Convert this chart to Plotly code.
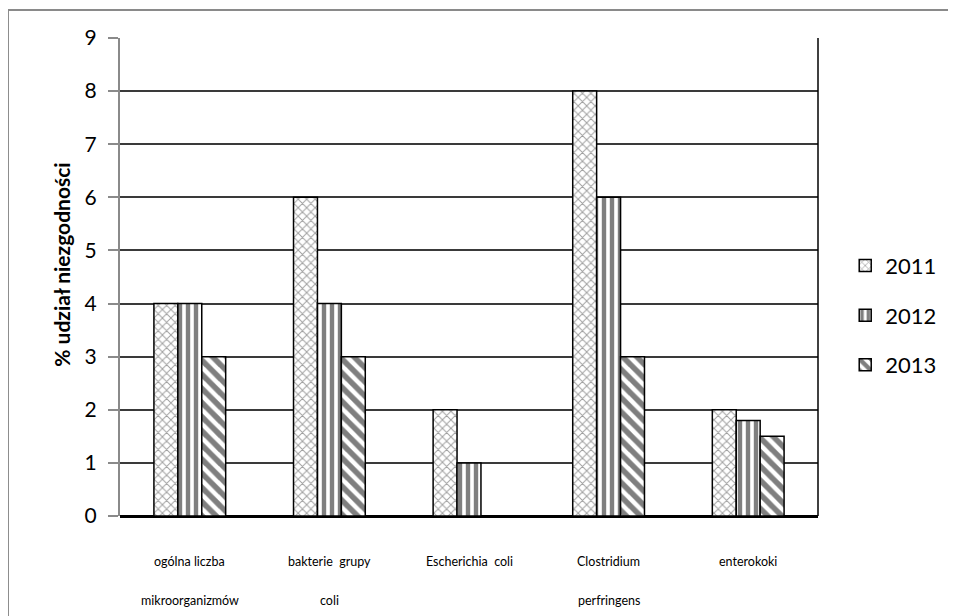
import plotly.graph_objects as go

categories = ["ogólna liczba mikroorganizmów", "bakterie grupy coli", "Escherichia coli",
              "Clostridium perfringens", "enterokoki"]
label_line1 = ["ogólna liczba", "bakterie  grupy", "Escherichia  coli", "Clostridium", "enterokoki"]
label_line2 = ["mikroorganizmów", "coli", "", "perfringens", ""]
years = ["2011", "2012", "2013"]
v2011 = [4, 6, 2, 8, 2]
v2012 = [4, 4, 1, 6, 1.8]
v2013 = [3, 3, 0, 3, 1.5]
y_ticks = [0, 1, 2, 3, 4, 5, 6, 7, 8, 9]
y_title = "% udział niezgodności"

FONT = "Lato, 'Open Sans', sans-serif"

patterns = [
    dict(shape="x", fgcolor="#404040", bgcolor="white", size=6, solidity=0.3),
    dict(shape="|", fgcolor="black", bgcolor="white", size=8, solidity=0.55),
    dict(shape="\\", fgcolor="black", bgcolor="white", size=10, solidity=0.55),
]

fig = go.Figure()
for i, (yr, vals) in enumerate(zip(years, [v2011, v2012, v2013])):
    fig.add_trace(go.Bar(
        x=categories, y=vals, name=yr, legendgroup=yr,
        marker=dict(color="white", pattern=patterns[i],
                    line=dict(color="black", width=1.5)),
    ))

annotations = []
for c, l1, l2 in zip(categories, label_line1, label_line2):
    annotations.append(dict(x=c, y=-0.096, xref="x", yref="paper", text=l1, showarrow=False,
                            font=dict(size=12.5, color="black", family=FONT), yanchor="middle"))
    if l2:
        annotations.append(dict(x=c, y=-0.176, xref="x", yref="paper", text=l2, showarrow=False,
                                font=dict(size=12.5, color="black", family=FONT), yanchor="middle"))
annotations.append(dict(x=-0.085, y=0.525, xref="paper", yref="paper", text="<b>" + y_title + "</b>",
                        textangle=-90, showarrow=False, xanchor="center", yanchor="middle",
                        font=dict(size=21, color="black", family=FONT)))

shapes = [
    # outer chart border (gray) - top and left edges visible
    dict(type="line", xref="paper", yref="paper", x0=-0.1605, y0=1.0586, x1=1.6, y1=1.0586,
         line=dict(color="#8a8a8a", width=2), layer="below"),
    dict(type="line", xref="paper", yref="paper", x0=-0.1605, y0=-0.5, x1=-0.1605, y1=1.0586,
         line=dict(color="#8a8a8a", width=2), layer="below"),
    # right border of plot area
    dict(type="line", xref="paper", yref="paper", x0=1, y0=0, x1=1, y1=1,
         line=dict(color="black", width=1.5)),
]

fig.update_layout(
    width=956, height=616,
    margin=dict(l=112, r=146, t=30, b=108),
    paper_bgcolor="white", plot_bgcolor="white",
    barmode="group", bargap=0.486, bargroupgap=0,
    font=dict(family=FONT, color="black"),
    showlegend=True,
    legend=dict(x=1.039, y=0.42, xanchor="left", yanchor="middle",
                font=dict(size=22, family=FONT), traceorder="grouped",
                tracegroupgap=18, bgcolor="rgba(0,0,0,0)"),
    annotations=annotations,
    shapes=shapes,
    xaxis=dict(showticklabels=False, showline=False, ticks="", showgrid=False,
               zeroline=False),
    yaxis=dict(range=[0, 9], tickvals=y_ticks, ticktext=[str(t) for t in y_ticks],
               showgrid=True, gridcolor="#3a3a3a", gridwidth=1.5,
               zeroline=True, zerolinecolor="black", zerolinewidth=3,
               showline=True, linecolor="#8a8a8a", linewidth=2,
               ticks="outside", ticklen=10, tickcolor="#8a8a8a", tickwidth=2,
               ticklabelstandoff=7,
               tickfont=dict(size=21, family=FONT)),
)

fig.write_html("out.html")
